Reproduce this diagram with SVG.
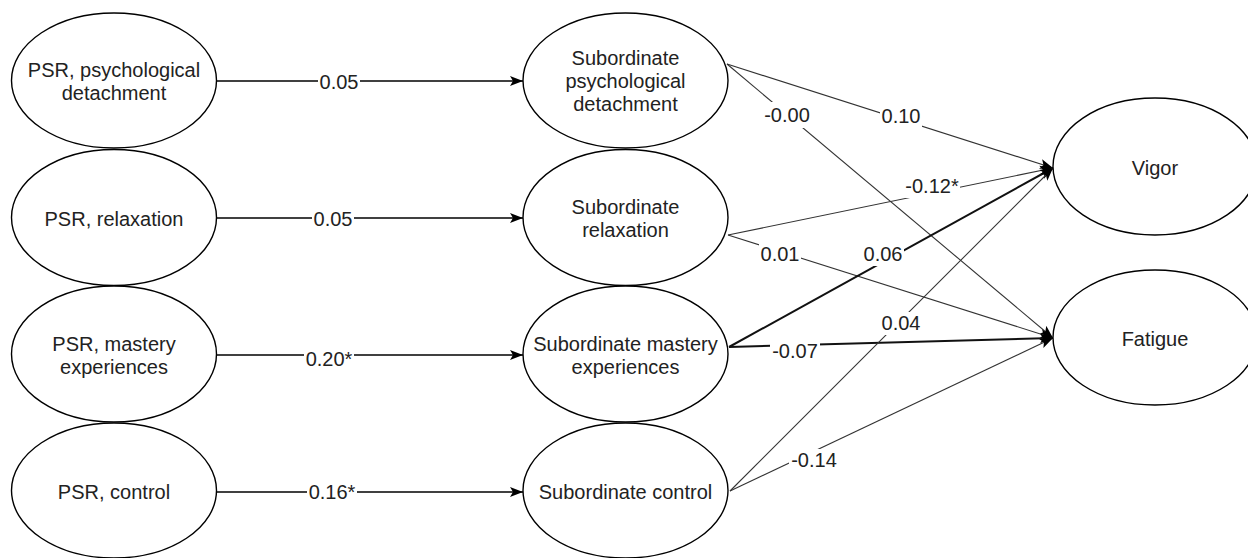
<svg xmlns="http://www.w3.org/2000/svg" width="1248" height="558" viewBox="0 0 1248 558">
<style>
  .node ellipse { fill: #ffffff; stroke: #000000; stroke-width: 1.4; }
  .node text { font-family: "Liberation Sans", Arial, sans-serif; font-size: 20px; fill: #222222; text-anchor: middle; }
  .edge { fill: none; stroke: #333333; stroke-width: 1.1; marker-end: url(#arrow); }
  .edge.h { stroke: #000000; stroke-width: 1.6; }
  .edge.thick { stroke: #111111; stroke-width: 2; }
  .lbl rect { fill: #ffffff; stroke: none; }
  .lbl text { font-family: "Liberation Sans", Arial, sans-serif; font-size: 20px; fill: #222222; text-anchor: middle; }
</style>
<defs>
  <marker id="arrow" markerUnits="userSpaceOnUse" markerWidth="14" markerHeight="12" viewBox="0 0 14 12" refX="13" refY="6" orient="auto">
    <path d="M0,1 L13,6 L0,11 L3,6 Z" fill="#000000"/>
  </marker>
</defs>
<rect width="1248" height="558" fill="#ffffff"/>

<g id="connectors">
  <line class="edge h" x1="216" y1="81" x2="523" y2="81"/>
  <line class="edge h" x1="216" y1="218" x2="523" y2="218"/>
  <line class="edge h" x1="216" y1="355" x2="523" y2="355"/>
  <line class="edge h" x1="216" y1="492" x2="523" y2="492"/>

  <line class="edge" x1="727" y1="64" x2="1053" y2="168"/>
  <line class="edge" x1="727" y1="64" x2="1053" y2="338"/>
  <line class="edge" x1="728" y1="235" x2="1053" y2="168"/>
  <line class="edge" x1="728" y1="235" x2="1053" y2="338"/>
  <line class="edge thick" x1="729" y1="347" x2="1053" y2="168"/>
  <line class="edge thick" x1="729" y1="347" x2="1053" y2="338"/>
  <line class="edge" x1="730" y1="491" x2="1053" y2="168"/>
  <line class="edge" x1="730" y1="491" x2="1053" y2="338"/>

  <g class="lbl"><rect x="318" y="71" width="42" height="23"/><text x="339" y="89">0.05</text></g>
  <g class="lbl"><rect x="312" y="208" width="42" height="23"/><text x="333" y="226">0.05</text></g>
  <g class="lbl"><rect x="304" y="348" width="50" height="23"/><text x="329" y="366">0.20*</text></g>
  <g class="lbl"><rect x="307" y="481" width="50" height="23"/><text x="332" y="499">0.16*</text></g>

  <g class="lbl"><rect x="880" y="104" width="42" height="24"/><text x="901" y="123">0.10</text></g>
  <g class="lbl"><rect x="762" y="102" width="50" height="26"/><text x="787" y="122">-0.00</text></g>
  <g class="lbl"><rect x="905" y="175" width="55" height="23"/><text x="932" y="193">-0.12*</text></g>
  <g class="lbl"><rect x="759" y="243" width="42" height="23"/><text x="780" y="261">0.01</text></g>
  <g class="lbl"><rect x="862" y="243" width="42" height="23"/><text x="883" y="261">0.06</text></g>
  <g class="lbl"><rect x="880" y="312" width="42" height="23"/><text x="901" y="330">0.04</text></g>
  <g class="lbl"><rect x="770" y="340" width="50" height="23"/><text x="795" y="358">-0.07</text></g>
  <g class="lbl"><rect x="789" y="449" width="50" height="23"/><text x="814" y="467">-0.14</text></g>
</g>

<g id="psr-detachment" class="node">
  <ellipse cx="114" cy="80.5" rx="102.5" ry="67.5"/>
  <text x="114" y="77">PSR, psychological</text>
  <text x="114" y="100">detachment</text>
</g>
<g id="psr-relaxation" class="node">
  <ellipse cx="114" cy="217.5" rx="102.5" ry="68"/>
  <text x="114" y="226">PSR, relaxation</text>
</g>
<g id="psr-mastery" class="node">
  <ellipse cx="114" cy="354" rx="102.5" ry="68"/>
  <text x="114" y="351">PSR, mastery</text>
  <text x="114" y="374">experiences</text>
</g>
<g id="psr-control" class="node">
  <ellipse cx="114" cy="490.5" rx="102.5" ry="67.5"/>
  <text x="114" y="499">PSR, control</text>
</g>

<g id="sub-detachment" class="node">
  <ellipse cx="625.5" cy="80.5" rx="102.5" ry="67.5"/>
  <text x="625.5" y="65">Subordinate</text>
  <text x="625.5" y="88">psychological</text>
  <text x="625.5" y="111">detachment</text>
</g>
<g id="sub-relaxation" class="node">
  <ellipse cx="625.5" cy="217.5" rx="102.5" ry="68"/>
  <text x="625.5" y="214">Subordinate</text>
  <text x="625.5" y="237">relaxation</text>
</g>
<g id="sub-mastery" class="node">
  <ellipse cx="625.5" cy="354" rx="102.5" ry="68"/>
  <text x="625.5" y="351">Subordinate mastery</text>
  <text x="625.5" y="374">experiences</text>
</g>
<g id="sub-control" class="node">
  <ellipse cx="625.5" cy="490.5" rx="102.5" ry="67.5"/>
  <text x="625.5" y="499">Subordinate control</text>
</g>

<g id="vigor" class="node">
  <ellipse cx="1155" cy="166.5" rx="102" ry="68.5"/>
  <text x="1155" y="175">Vigor</text>
</g>
<g id="fatigue" class="node">
  <ellipse cx="1155" cy="337.5" rx="102" ry="67.5"/>
  <text x="1155" y="346">Fatigue</text>
</g>
</svg>
